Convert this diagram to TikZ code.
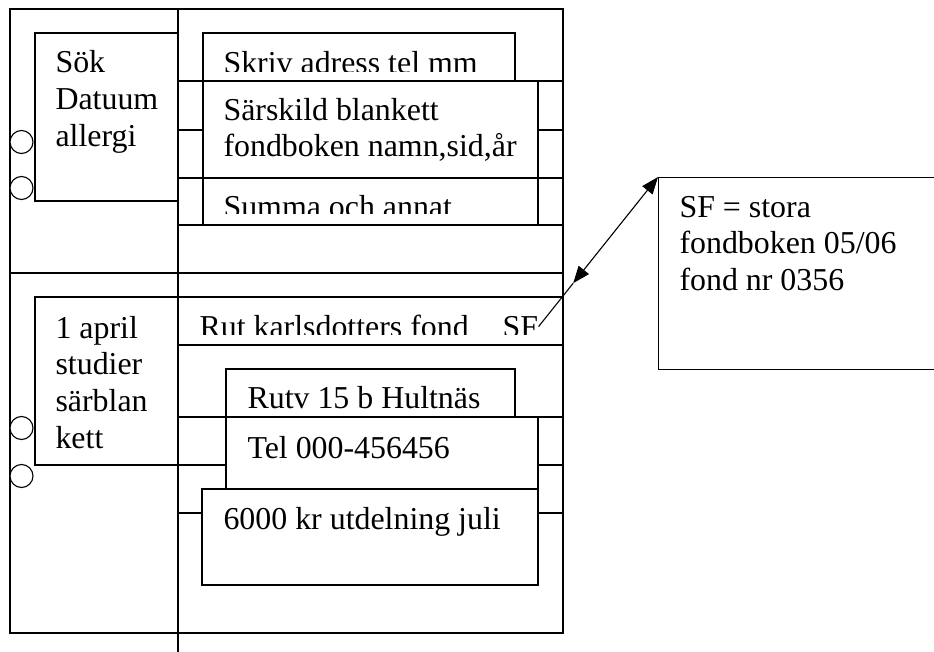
\documentclass[tikz,border=0pt]{standalone}
\usepackage{fontspec}
\setmainfont{Liberation Serif}
\usepackage{tikz}
\usetikzlibrary{calc,arrows.meta}

\begin{document}
\begin{tikzpicture}[
  x=1bp,y=-1bp,line width=1.1bp,
  txt/.style={anchor=base west,inner sep=0pt,font=\fontsize{32}{37}\selectfont},
  card/.style={draw,fill=white},
  ring/.style={draw,fill=white},
  tri/.style={{Triangle[length=17bp,width=13bp]}-{Triangle[length=17bp,width=13bp]}}
  ]
\def\lskip{36.7}
\useasboundingbox (0,0) rectangle (934,652);
% binder with two pages
\draw (10,9) rectangle (563,633);
\draw (10,273) -- (563,273);
\draw (178,9) -- (178,652);                                    % spine
\foreach \y in {142,188,428,476}
  \draw[ring] (21.5,\y) circle (11.5);                         % rings
% upper page
\draw[card] (35,33) rectangle (178,201);
\foreach \t [count=\i] in {Sök,Datuum,allergi}
  \node[txt] (sok\i) at (55,{73+\lskip*(\i-1)}) {\t};
\foreach \y in {81,178,225} \draw (178,\y) -- (563,\y);
\draw (178,130) -- (203,130) (538,130) -- (563,130);
\draw[card] (203,33) rectangle (515,81);
\begin{scope}
  \clip (203,33) rectangle (515,72);
  \node[txt] (skriv) at (223,74) {Skriv adress tel mm};
\end{scope}
\draw[card] (203,81) rectangle (538,178);
\node[txt] (sarskild1) at (223,121) {Särskild blankett};
\node[txt] (sarskild2) at (223,157) {fondboken namn,sid,år};
\draw[card] (203,178) rectangle (538,225);
\begin{scope}
  \clip (203,178) rectangle (538,213);
  \node[txt] (summa) at (223,217) {Summa och annat};
\end{scope}
% lower page
\draw[card] (35,297) rectangle (178,465);
\foreach \t [count=\i] in {1 april,studier,särblan,kett}
  \node[txt] (apr\i) at (55,{338+\lskip*(\i-1)}) {\t};
\draw (178,297) rectangle (563,345);
\begin{scope}
  \clip (178,297) rectangle (563,334);
  \node[txt] (rut) at (199,337) {Rut karlsdotters fond};
  \node[txt] (sf) at (502,337) {SF};
\end{scope}
\draw (178,417) -- (563,417);
\draw (178,465) -- (226,465) (538,465) -- (563,465);
\draw (178,513) -- (202,513) (538,513) -- (563,513);
\draw[card] (226,369) rectangle (515,417);
\begin{scope}
  \clip (226,369) rectangle (515,411);
  \node[txt] (rutv) at (247,408) {Rutv 15 b Hultnäs};
\end{scope}
\draw[card] (226,417) rectangle (538,489);
\node[txt] (tel) at (247,458) {Tel 000-456456};
\draw[card] (202,489) rectangle (538,585);
\node[txt] (kronor) at (223,529) {6000 kr utdelning juli};
% note on SF
\node[draw,anchor=north west,inner sep=0pt,minimum width=290bp,minimum height=192bp] (note) at (658,177) {};
\foreach \t [count=\i] in {SF = stora,fondboken 05/06,fond nr 0356}
  \node[txt] (note\i) at (679,{217+\lskip*(\i-1)}) {\t};
\coordinate (mid) at ($(sf.east)!0.29!(note.north west)$);
\draw[tri] (mid) -- (note.north west);
\draw (sf.east) -- (mid);
\end{tikzpicture}
\end{document}
